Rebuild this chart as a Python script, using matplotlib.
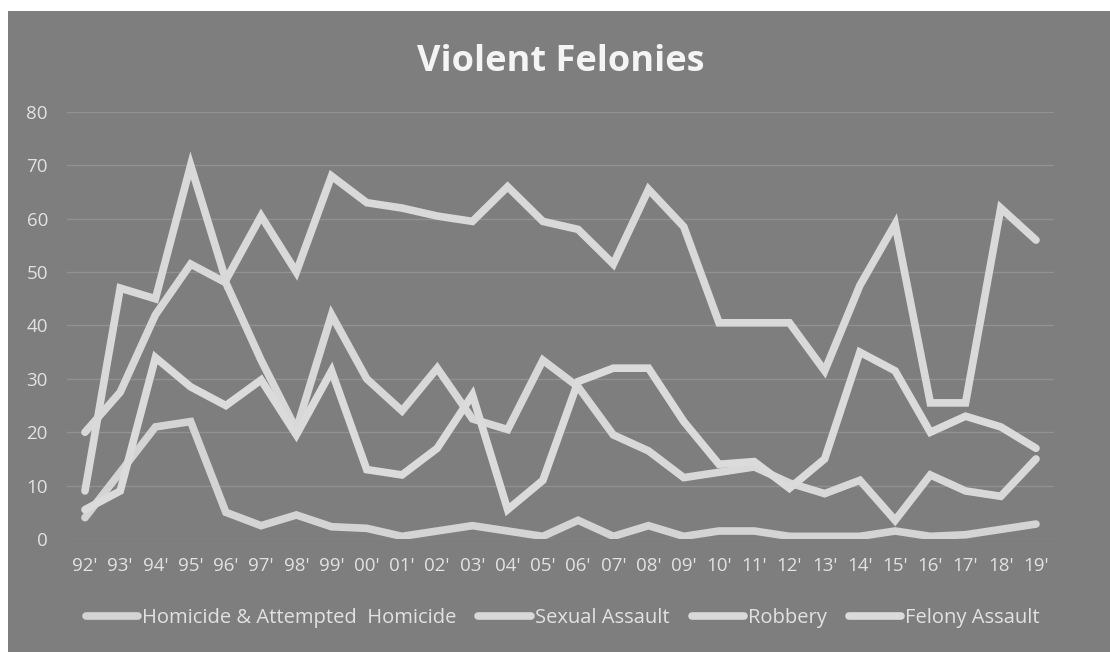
import matplotlib
matplotlib.use("Agg")
import matplotlib.pyplot as plt
from matplotlib.patches import Rectangle

# data
years = ["92'", "93'", "94'", "95'", "96'", "97'", "98'", "99'", "00'", "01'",
         "02'", "03'", "04'", "05'", "06'", "07'", "08'", "09'", "10'", "11'",
         "12'", "13'", "14'", "15'", "16'", "17'", "18'", "19'"]

homicide = [4, 12.5, 21, 22, 5, 2.5, 4.5, 2.3, 2, 0.5,
            1.5, 2.5, 1.5, 0.5, 3.5, 0.5, 2.5, 0.5, 1.5, 1.5,
            0.5, 0.5, 0.5, 1.5, 0.5, 0.8, 1.8, 2.8]
sexual_assault = [20, 27.5, 42, 51.5, 48, 33.5, 20.5, 42, 30, 24,
                  32, 22.5, 20.5, 33.5, 28.5, 19.5, 16.5, 11.5, 12.5, 13.5,
                  10.5, 8.5, 11, 3.5, 12, 9, 8, 15]
robbery = [9, 47, 45, 70, 48.5, 60.5, 50, 68, 63, 62,
           60.5, 59.5, 66, 59.5, 58, 51.5, 65.5, 58.5, 40.5, 40.5,
           40.5, 31.5, 47.5, 59, 25.5, 25.5, 62, 56]
felony_assault = [5.5, 9, 34, 28.5, 25, 29.8, 19.5, 31.5, 13, 12,
                  17, 27, 5.5, 11, 29.5, 32, 32, 22, 14, 14.5,
                  9.5, 15, 35, 31.5, 20, 23, 21, 17]

series = [("Homicide & Attempted  Homicide", homicide, "#d4d4d4"),
          ("Sexual Assault", sexual_assault, "#d8d8d8"),
          ("Robbery", robbery, "#d9d9d9"),
          ("Felony Assault", felony_assault, "#dbdbdb")]

plt.rcParams['font.family'] = ['Open Sans', 'DejaVu Sans']
bg = "#7e7e7e"
txt = "#e2e2e2"

fig = plt.figure(figsize=(11.1, 6.52), dpi=100, facecolor="white")
# gray chart area (scan leaves a white strip at top and left)
fig.patches.append(Rectangle((8 / 1110, 0), 1 - 8 / 1110, 1 - 11 / 652,
                             transform=fig.transFigure, facecolor=bg,
                             edgecolor="none", zorder=-10))

ax = fig.add_axes([0.0607, 0.1733, 0.8885, 0.655])
ax.set_facecolor("none")

x = list(range(len(years)))
for name, vals, col in series:
    ax.plot(x, vals, color=col, linewidth=5.5, solid_joinstyle="miter",
            solid_capstyle="round", label=name, zorder=3)

ax.set_xlim(-0.5, len(years) - 0.5)
ax.set_ylim(0, 80)
ax.set_yticks(range(0, 81, 10))
ax.set_xticks(x)
ax.set_xticklabels(years)
ax.tick_params(axis="both", length=0, colors=txt, labelsize=13.5)
ax.tick_params(axis="y", pad=14)
ax.tick_params(axis="x", pad=13)
ax.grid(axis="y", color="#919191", linewidth=1)
ax.set_axisbelow(True)
for s in ax.spines.values():
    s.set_visible(False)

fig.text(0.505, 0.905, "Violent Felonies", ha="center", va="center",
         fontsize=26, fontweight="bold", color="#f4f4f4")

leg = fig.legend(loc="center", bbox_to_anchor=(0.507, 0.052), ncol=4,
                 frameon=False, fontsize=14.5, handlelength=2.6,
                 handletextpad=0.2, columnspacing=1.1)
for t in leg.get_texts():
    t.set_color(txt)

fig.savefig("out.png", dpi=100, facecolor=fig.get_facecolor())
